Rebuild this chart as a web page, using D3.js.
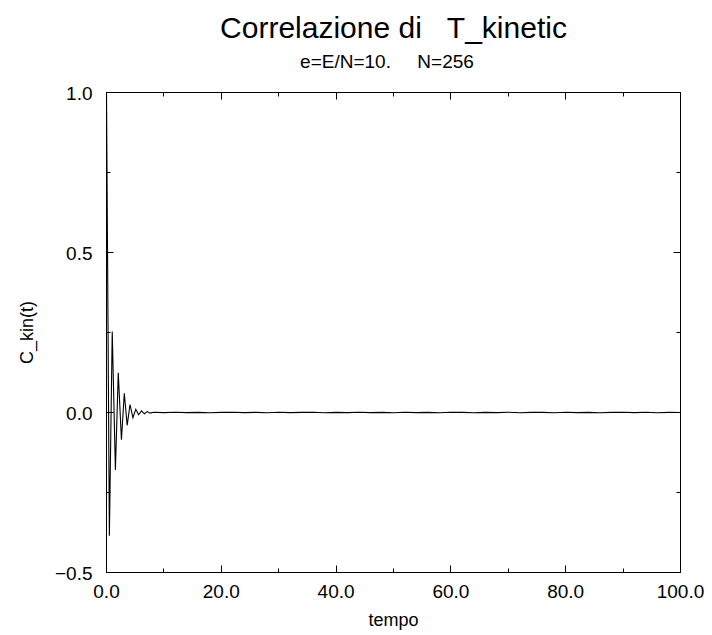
<!DOCTYPE html>
<html>
<head>
<meta charset="utf-8">
<script src="https://cdn.jsdelivr.net/npm/d3@7"></script>
<style>
  body { margin: 0; background: #fff; }
  text { font-family: "Liberation Sans", Arial, sans-serif; fill: #000; }
</style>
</head>
<body>
<svg width="712" height="635"></svg>
<script>
// correlation of kinetic energy vs time
var timeValues = [0, 0.5, 1.0, 1.55, 2.05, 2.6, 3.1, 3.6, 4.1, 4.6, 5.1, 5.6, 6.1, 6.6, 7.1, 7.6, 8.2,
    10, 12, 14, 16, 18, 20, 22, 24, 26, 28, 30, 32, 34, 36, 38, 40, 42, 44, 46, 48, 50,
    52, 54, 56, 58, 60, 62, 64, 66, 68, 70, 72, 74, 76, 78, 80, 82, 84, 86, 88, 90, 92, 94, 96, 98, 100];
var corrValues = [1.0, -0.385, 0.253, -0.18, 0.124, -0.085, 0.06, -0.04, 0.025, -0.016, 0.01, -0.007, 0.005, -0.004, 0.003, -0.002, 0.001,
    -0.0005, 0.001, -0.0005, 0.0005, -0.001, 0.0005, 0.001, -0.0005, 0.0005, -0.001, 0.001, -0.0005, 0.0005, 0.001, -0.001, 0.0005, -0.0005, 0.001, -0.0005, 0.0005, -0.001,
    0.001, -0.0005, 0.0005, -0.001, 0.001, 0.0005, -0.001, 0.0005, -0.0005, 0.001, -0.001, 0.0005, 0.0005, -0.001, 0.001, -0.0005, 0.0005, -0.001, 0.0005, 0.001, -0.0005, 0.001, -0.001, 0.0005, 0.0];

var xMajor = [0, 20, 40, 60, 80, 100];
var xMinor = [10, 30, 50, 70, 90];
var yMajor = [-0.5, 0, 0.5, 1.0];
var yMinor = [-0.25, 0.25, 0.75];

var titleText = "Correlazione di \u00a0\u00a0T_kinetic";
var subtitleText = "e=E/N=10. \u00a0\u00a0\u00a0\u00a0N=256";
var xLabel = "tempo";
var yLabel = "C_kin(t)";

var svg = d3.select("svg");

var plotLeft = 106.5, plotRight = 680.5, plotTop = 92.5, plotBottom = 572.5;

var x = d3.scaleLinear().domain([0, 100]).range([plotLeft, plotRight]);
var y = d3.scaleLinear().domain([-0.5, 1.0]).range([plotBottom, plotTop]);

var fmt = function(d) {
    return d3.format(".1f")(d).replace("-", "\u2212");
};

// ticks, inward on all four sides
var tickGroup = svg.append("g").attr("stroke", "#000").attr("stroke-width", 1);

function xTicks(vals, len) {
    vals.forEach(function(v) {
        var px = Math.round(x(v) - 0.5) + 0.5;
        tickGroup.append("line").attr("x1", px).attr("x2", px).attr("y1", plotBottom).attr("y2", plotBottom - len);
        tickGroup.append("line").attr("x1", px).attr("x2", px).attr("y1", plotTop).attr("y2", plotTop + len);
    });
}
function yTicks(vals, len) {
    vals.forEach(function(v) {
        var py = Math.round(y(v) - 0.5) + 0.5;
        tickGroup.append("line").attr("y1", py).attr("y2", py).attr("x1", plotLeft).attr("x2", plotLeft + len);
        tickGroup.append("line").attr("y1", py).attr("y2", py).attr("x1", plotRight).attr("x2", plotRight - len);
    });
}
xTicks(xMajor, 7);
xTicks(xMinor, 4);
yTicks(yMajor, 7);
yTicks(yMinor, 4);

// frame
svg.append("rect")
    .attr("x", plotLeft).attr("y", plotTop)
    .attr("width", plotRight - plotLeft).attr("height", plotBottom - plotTop)
    .attr("fill", "none").attr("stroke", "#000").attr("stroke-width", 1);

// tick labels
svg.append("g").selectAll("text")
    .data(xMajor).enter()
    .append("text")
    .attr("x", function(d) { return x(d); })
    .attr("y", plotBottom + 25)
    .attr("text-anchor", "middle")
    .style("font-size", "19px")
    .text(fmt);

svg.append("g").selectAll("text")
    .data(yMajor).enter()
    .append("text")
    .attr("x", plotLeft - 14)
    .attr("y", function(d) { return y(d) + 7; })
    .attr("text-anchor", "end")
    .style("font-size", "19px")
    .text(fmt);

// the curve
var points = timeValues.map(function(t, i) { return [t, corrValues[i]]; });

var line = d3.line()
    .x(function(d) { return x(d[0]); })
    .y(function(d) { return y(d[1]); });

svg.append("path")
    .datum(points)
    .attr("d", line)
    .attr("fill", "none")
    .attr("stroke", "#000")
    .attr("stroke-width", 1.1);

// titles
svg.append("text")
    .attr("x", (plotLeft + plotRight) / 2).attr("y", 38)
    .attr("text-anchor", "middle")
    .style("font-size", "30px")
    .text(titleText);

svg.append("text")
    .attr("x", 387).attr("y", 68)
    .attr("text-anchor", "middle")
    .style("font-size", "19px")
    .text(subtitleText);

svg.append("text")
    .attr("x", (plotLeft + plotRight) / 2).attr("y", 626)
    .attr("text-anchor", "middle")
    .style("font-size", "18px")
    .text(xLabel);

svg.append("text")
    .attr("transform", "translate(33," + ((plotTop + plotBottom) / 2) + ") rotate(-90)")
    .attr("text-anchor", "middle")
    .style("font-size", "18px")
    .text(yLabel);
</script>
</body>
</html>
